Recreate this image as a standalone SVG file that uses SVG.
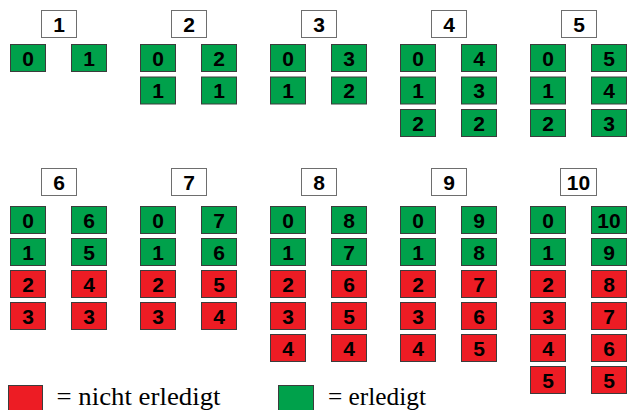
<svg xmlns="http://www.w3.org/2000/svg" width="635" height="410" viewBox="0 0 635 410">
  <style>
    .hd { fill: #ffffff; stroke: #6e6e6e; stroke-width: 1; }
    .ok { fill: #00a14b; stroke: #3c3c3c; stroke-width: 1; }
    .no { fill: #ed1c24; stroke: #3c3c3c; stroke-width: 1; }
    .n { font-family: "Liberation Sans", Arial, sans-serif; font-weight: bold; font-size: 21px; fill: #000; text-anchor: middle; }
    .lg { font-family: "Liberation Serif", "Times New Roman", serif; font-size: 25px; fill: #000; }
  </style>
  <rect width="635" height="410" fill="#ffffff"/>

  <!-- Upper row: n = 1 .. 5 -->
  <g id="n1">
    <rect class="hd" x="41.5" y="10.5" width="35" height="27"/><text class="n" x="59" y="31.5">1</text>
    <rect class="ok" x="10.5" y="44.5" width="35" height="27"/><text class="n" x="28" y="65.5">0</text>
    <rect class="ok" x="71.5" y="44.5" width="35" height="27"/><text class="n" x="89" y="65.5">1</text>
  </g>
  <g id="n2">
    <rect class="hd" x="171.5" y="10.5" width="35" height="27"/><text class="n" x="189" y="31.5">2</text>
    <rect class="ok" x="140.5" y="44.5" width="35" height="27"/><text class="n" x="158" y="65.5">0</text>
    <rect class="ok" x="201.5" y="44.5" width="35" height="27"/><text class="n" x="219" y="65.5">2</text>
    <rect class="ok" x="140.5" y="77" width="35" height="27"/><text class="n" x="158" y="98">1</text>
    <rect class="ok" x="201.5" y="77" width="35" height="27"/><text class="n" x="219" y="98">1</text>
  </g>
  <g id="n3">
    <rect class="hd" x="301.5" y="10.5" width="35" height="27"/><text class="n" x="319" y="31.5">3</text>
    <rect class="ok" x="270.5" y="44.5" width="35" height="27"/><text class="n" x="288" y="65.5">0</text>
    <rect class="ok" x="331.5" y="44.5" width="35" height="27"/><text class="n" x="349" y="65.5">3</text>
    <rect class="ok" x="270.5" y="77" width="35" height="27"/><text class="n" x="288" y="98">1</text>
    <rect class="ok" x="331.5" y="77" width="35" height="27"/><text class="n" x="349" y="98">2</text>
  </g>
  <g id="n4">
    <rect class="hd" x="431.5" y="10.5" width="35" height="27"/><text class="n" x="449" y="31.5">4</text>
    <rect class="ok" x="400.5" y="44.5" width="35" height="27"/><text class="n" x="418" y="65.5">0</text>
    <rect class="ok" x="461.5" y="44.5" width="35" height="27"/><text class="n" x="479" y="65.5">4</text>
    <rect class="ok" x="400.5" y="77" width="35" height="27"/><text class="n" x="418" y="98">1</text>
    <rect class="ok" x="461.5" y="77" width="35" height="27"/><text class="n" x="479" y="98">3</text>
    <rect class="ok" x="400.5" y="109.5" width="35" height="27"/><text class="n" x="418" y="130.5">2</text>
    <rect class="ok" x="461.5" y="109.5" width="35" height="27"/><text class="n" x="479" y="130.5">2</text>
  </g>
  <g id="n5">
    <rect class="hd" x="561.5" y="10.5" width="35" height="27"/><text class="n" x="579" y="31.5">5</text>
    <rect class="ok" x="530.5" y="44.5" width="35" height="27"/><text class="n" x="548" y="65.5">0</text>
    <rect class="ok" x="591.5" y="44.5" width="35" height="27"/><text class="n" x="609" y="65.5">5</text>
    <rect class="ok" x="530.5" y="77" width="35" height="27"/><text class="n" x="548" y="98">1</text>
    <rect class="ok" x="591.5" y="77" width="35" height="27"/><text class="n" x="609" y="98">4</text>
    <rect class="ok" x="530.5" y="109.5" width="35" height="27"/><text class="n" x="548" y="130.5">2</text>
    <rect class="ok" x="591.5" y="109.5" width="35" height="27"/><text class="n" x="609" y="130.5">3</text>
  </g>

  <!-- Lower row: n = 6 .. 10 -->
  <g id="n6">
    <rect class="hd" x="41.5" y="168.5" width="35" height="27"/><text class="n" x="59" y="189.5">6</text>
    <rect class="ok" x="10.5" y="206.5" width="35" height="27"/><text class="n" x="28" y="227.5">0</text>
    <rect class="ok" x="71.5" y="206.5" width="35" height="27"/><text class="n" x="89" y="227.5">6</text>
    <rect class="ok" x="10.5" y="238.5" width="35" height="27"/><text class="n" x="28" y="259.5">1</text>
    <rect class="ok" x="71.5" y="238.5" width="35" height="27"/><text class="n" x="89" y="259.5">5</text>
    <rect class="no" x="10.5" y="270.5" width="35" height="27"/><text class="n" x="28" y="291.5">2</text>
    <rect class="no" x="71.5" y="270.5" width="35" height="27"/><text class="n" x="89" y="291.5">4</text>
    <rect class="no" x="10.5" y="302.5" width="35" height="27"/><text class="n" x="28" y="323.5">3</text>
    <rect class="no" x="71.5" y="302.5" width="35" height="27"/><text class="n" x="89" y="323.5">3</text>
  </g>
  <g id="n7">
    <rect class="hd" x="171.5" y="168.5" width="35" height="27"/><text class="n" x="189" y="189.5">7</text>
    <rect class="ok" x="140.5" y="206.5" width="35" height="27"/><text class="n" x="158" y="227.5">0</text>
    <rect class="ok" x="201.5" y="206.5" width="35" height="27"/><text class="n" x="219" y="227.5">7</text>
    <rect class="ok" x="140.5" y="238.5" width="35" height="27"/><text class="n" x="158" y="259.5">1</text>
    <rect class="ok" x="201.5" y="238.5" width="35" height="27"/><text class="n" x="219" y="259.5">6</text>
    <rect class="no" x="140.5" y="270.5" width="35" height="27"/><text class="n" x="158" y="291.5">2</text>
    <rect class="no" x="201.5" y="270.5" width="35" height="27"/><text class="n" x="219" y="291.5">5</text>
    <rect class="no" x="140.5" y="302.5" width="35" height="27"/><text class="n" x="158" y="323.5">3</text>
    <rect class="no" x="201.5" y="302.5" width="35" height="27"/><text class="n" x="219" y="323.5">4</text>
  </g>
  <g id="n8">
    <rect class="hd" x="301.5" y="168.5" width="35" height="27"/><text class="n" x="319" y="189.5">8</text>
    <rect class="ok" x="270.5" y="206.5" width="35" height="27"/><text class="n" x="288" y="227.5">0</text>
    <rect class="ok" x="331.5" y="206.5" width="35" height="27"/><text class="n" x="349" y="227.5">8</text>
    <rect class="ok" x="270.5" y="238.5" width="35" height="27"/><text class="n" x="288" y="259.5">1</text>
    <rect class="ok" x="331.5" y="238.5" width="35" height="27"/><text class="n" x="349" y="259.5">7</text>
    <rect class="no" x="270.5" y="270.5" width="35" height="27"/><text class="n" x="288" y="291.5">2</text>
    <rect class="no" x="331.5" y="270.5" width="35" height="27"/><text class="n" x="349" y="291.5">6</text>
    <rect class="no" x="270.5" y="302.5" width="35" height="27"/><text class="n" x="288" y="323.5">3</text>
    <rect class="no" x="331.5" y="302.5" width="35" height="27"/><text class="n" x="349" y="323.5">5</text>
    <rect class="no" x="270.5" y="334.5" width="35" height="27"/><text class="n" x="288" y="355.5">4</text>
    <rect class="no" x="331.5" y="334.5" width="35" height="27"/><text class="n" x="349" y="355.5">4</text>
  </g>
  <g id="n9">
    <rect class="hd" x="431.5" y="168.5" width="35" height="27"/><text class="n" x="449" y="189.5">9</text>
    <rect class="ok" x="400.5" y="206.5" width="35" height="27"/><text class="n" x="418" y="227.5">0</text>
    <rect class="ok" x="461.5" y="206.5" width="35" height="27"/><text class="n" x="479" y="227.5">9</text>
    <rect class="ok" x="400.5" y="238.5" width="35" height="27"/><text class="n" x="418" y="259.5">1</text>
    <rect class="ok" x="461.5" y="238.5" width="35" height="27"/><text class="n" x="479" y="259.5">8</text>
    <rect class="no" x="400.5" y="270.5" width="35" height="27"/><text class="n" x="418" y="291.5">2</text>
    <rect class="no" x="461.5" y="270.5" width="35" height="27"/><text class="n" x="479" y="291.5">7</text>
    <rect class="no" x="400.5" y="302.5" width="35" height="27"/><text class="n" x="418" y="323.5">3</text>
    <rect class="no" x="461.5" y="302.5" width="35" height="27"/><text class="n" x="479" y="323.5">6</text>
    <rect class="no" x="400.5" y="334.5" width="35" height="27"/><text class="n" x="418" y="355.5">4</text>
    <rect class="no" x="461.5" y="334.5" width="35" height="27"/><text class="n" x="479" y="355.5">5</text>
  </g>
  <g id="n10">
    <rect class="hd" x="560.5" y="168.5" width="36" height="27"/><text class="n" x="578.5" y="189.5">10</text>
    <rect class="ok" x="530.5" y="206.5" width="35" height="27"/><text class="n" x="548" y="227.5">0</text>
    <rect class="ok" x="591.5" y="206.5" width="35" height="27"/><text class="n" x="609" y="227.5">10</text>
    <rect class="ok" x="530.5" y="238.5" width="35" height="27"/><text class="n" x="548" y="259.5">1</text>
    <rect class="ok" x="591.5" y="238.5" width="35" height="27"/><text class="n" x="609" y="259.5">9</text>
    <rect class="no" x="530.5" y="270.5" width="35" height="27"/><text class="n" x="548" y="291.5">2</text>
    <rect class="no" x="591.5" y="270.5" width="35" height="27"/><text class="n" x="609" y="291.5">8</text>
    <rect class="no" x="530.5" y="302.5" width="35" height="27"/><text class="n" x="548" y="323.5">3</text>
    <rect class="no" x="591.5" y="302.5" width="35" height="27"/><text class="n" x="609" y="323.5">7</text>
    <rect class="no" x="530.5" y="334.5" width="35" height="27"/><text class="n" x="548" y="355.5">4</text>
    <rect class="no" x="591.5" y="334.5" width="35" height="27"/><text class="n" x="609" y="355.5">6</text>
    <rect class="no" x="530.5" y="366.5" width="35" height="27"/><text class="n" x="548" y="387.5">5</text>
    <rect class="no" x="591.5" y="366.5" width="35" height="27"/><text class="n" x="609" y="387.5">5</text>
  </g>

  <!-- Legend -->
  <g id="legend">
    <rect class="no" x="8.5" y="385.5" width="34" height="30"/>
    <text class="lg" x="56.5" y="405" textLength="164" lengthAdjust="spacingAndGlyphs">= nicht erledigt</text>
    <rect class="ok" x="278.5" y="385.5" width="35" height="30"/>
    <text class="lg" x="328" y="405" textLength="98" lengthAdjust="spacingAndGlyphs">= erledigt</text>
  </g>
</svg>
